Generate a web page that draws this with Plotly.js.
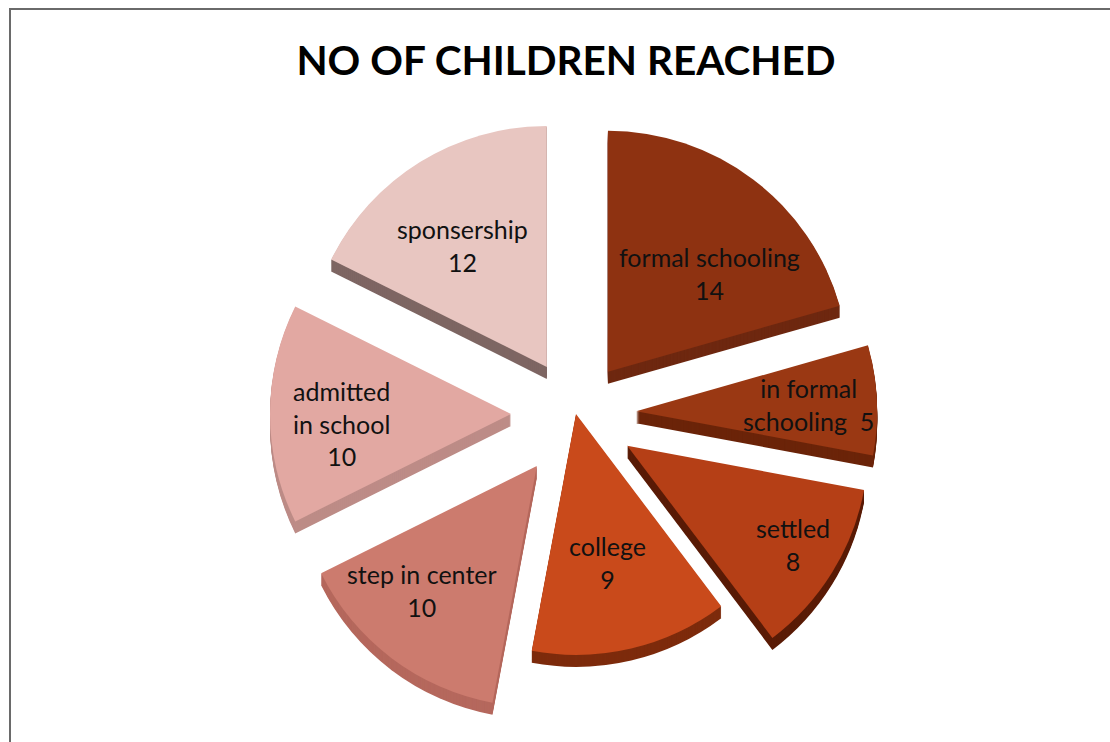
<!DOCTYPE html>
<html>
<head>
<meta charset="utf-8">
<script src="https://cdn.plot.ly/plotly-3.0.1.min.js"></script>
<style>html,body{margin:0;padding:0;background:#fff}#chart{width:1110px;height:742px}</style>
</head>
<body>
<div id="chart"></div>
<script>
const categories = ["formal schooling","in formal schooling","settled","college","step in center","admitted in school","sponsership"];
const values = [14,5,8,9,10,10,12];
const labelLines = [["formal schooling","14"],["in formal","schooling  5"],["settled","8"],["college","9"],["step in center","10"],["admitted","in school","10"],["sponsership","12"]];
const labelX = [709,808,793,607,422,341,462];
const labelY = [273,404,544,562,590,423,245];
const pulls = [0.22,0.25,0.25,0.0,0.27,0.27,0.23];
const topColors = ["#8e3211","#9a3813","#b53f16","#c94a1b","#cc7b6e","#e2a8a2","#e8c6c1"];
const sideColors = ["#6e2810","#6b2409","#5a1c07","#7d2b0c","#b5685d","#bd8c87","#7e6663"];

const W = 1110, H = 742;
const cx = 576, cy = 414, half = 306;
function dom(off){
  return {x:[(cx-half)/W,(cx+half)/W], y:[1-(cy+half+off)/H,1-(cy-half+off)/H]};
}
const base = {type:"pie",labels:categories,values:values,sort:false,direction:"clockwise",rotation:0,pull:pulls,textinfo:"none",showlegend:false,hoverinfo:"skip"};
const data = [];
for (let off=12; off>=1; off--){
  data.push(Object.assign({},base,{domain:dom(off),marker:{colors:sideColors,line:{width:0}}}));
}
data.push(Object.assign({},base,{domain:dom(0),marker:{colors:topColors,line:{width:0}},hoverinfo:"label+value"}));

const annotations = categories.map((c,i)=>({
  xref:"paper",yref:"paper",x:labelX[i]/W,y:1-labelY[i]/H,xanchor:"center",yanchor:"middle",
  showarrow:false,align:"center",text:labelLines[i].join("<br>"),
  font:{family:"Lato, sans-serif",size:25,color:"#111"}
}));

const layout = {
  width:W,height:H,margin:{l:0,r:0,t:0,b:0},paper_bgcolor:"#fff",plot_bgcolor:"#fff",showlegend:false,
  title:{text:"<b>NO OF CHILDREN REACHED</b>",x:566/W,xanchor:"center",y:1-61/H,yanchor:"middle",font:{family:"Lato, sans-serif",size:40.5,color:"#000"}},
  annotations:annotations,
  shapes:[
    {type:"line",xref:"paper",yref:"paper",x0:9/W,x1:1,y0:1-9/H,y1:1-9/H,line:{color:"#6a6a6a",width:2}},
    {type:"line",xref:"paper",yref:"paper",x0:10/W,x1:10/W,y0:1-9/H,y1:0,line:{color:"#6a6a6a",width:2}}
  ]
};
Plotly.newPlot("chart",data,layout,{displayModeBar:false});
</script>
</body>
</html>
